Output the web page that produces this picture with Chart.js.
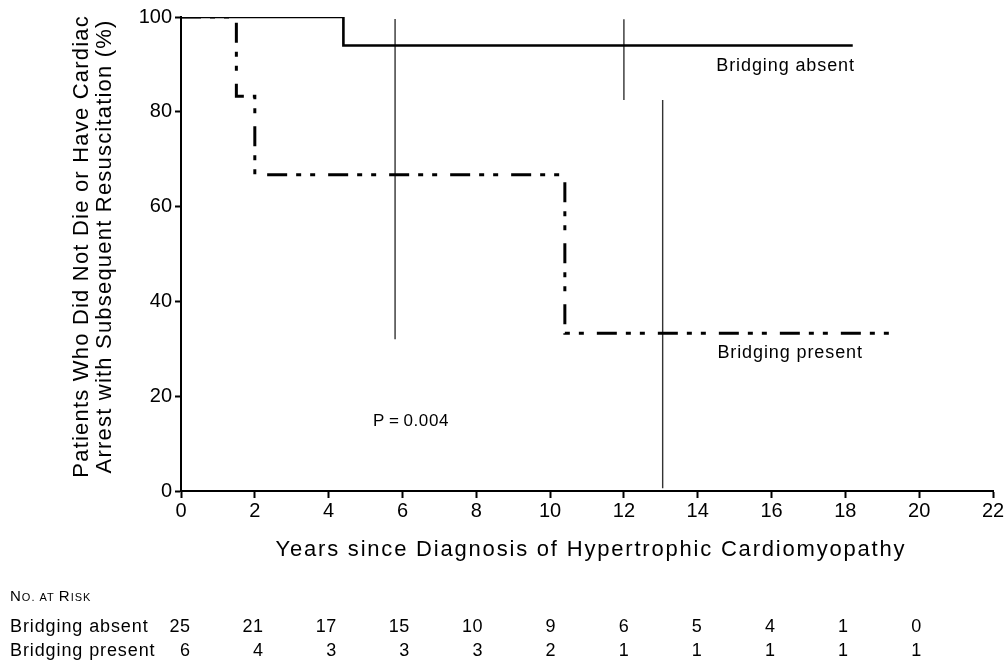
<!DOCTYPE html>
<html>
<head>
<meta charset="utf-8">
<script src="https://cdn.jsdelivr.net/npm/chart.js@4.4.1/dist/chart.umd.min.js"></script>
<style>
  html, body { margin: 0; padding: 0; background: #fff; }
  #wrap { position: relative; width: 1008px; height: 664px; }
</style>
</head>
<body>
<div id="wrap"><canvas id="km"></canvas></div>
<script>
// survival curves (years, % event-free)
const absentYears = [0, 4.4, 18.2];
const absentSurvival = [100, 94, 94];
const presentYears = [0, 1.5, 2.0, 10.4, 19.4];
const presentSurvival = [100, 83.3, 66.7, 33.3, 33.3];

// thin vertical marks crossing the plot
const markYears = [5.8, 12.0, 13.05];
const markTop = [99.6, 99.5, 82.5];
const markBottom = [32, 82.5, 0.6];

const xTicks = [0, 2, 4, 6, 8, 10, 12, 14, 16, 18, 20, 22];
const yTicks = [0, 20, 40, 60, 80, 100];

// number at risk
const riskYears = [0, 2, 4, 6, 8, 10, 12, 14, 16, 18, 20];
const riskAbsent = [25, 21, 17, 15, 10, 9, 6, 5, 4, 1, 0];
const riskPresent = [6, 4, 3, 3, 3, 2, 1, 1, 1, 1, 1];

const FONT = '"Liberation Sans", Arial, Helvetica, sans-serif';

const toPoints = (xs, ys) => xs.map((x, i) => ({ x: x, y: ys[i] }));

const markSets = markYears.map((x, i) => ({
  label: 'mark' + i,
  data: [{ x: x, y: markTop[i] }, { x: x, y: markBottom[i] }],
  borderColor: '#333',
  borderWidth: 1.4,
  pointRadius: 0
}));

// text with tracking, the original typesetting is loose
function txt(ctx, s, x, y, size, spacing) {
  ctx.font = size + 'px ' + FONT;
  ctx.letterSpacing = spacing + 'px';
  if (ctx.textAlign === 'right') x += spacing;
  if (ctx.textAlign === 'center') x += spacing / 2;
  ctx.fillText(s, x, y);
  return ctx.measureText(s).width;
}

const extras = {
  id: 'extras',
  afterDraw(chart) {
    const ctx = chart.ctx;
    const xs = chart.scales.x;
    ctx.save();
    ctx.fillStyle = '#000';

    // axis titles
    ctx.textAlign = 'center';
    ctx.textBaseline = 'middle';
    txt(ctx, 'Years since Diagnosis of Hypertrophic Cardiomyopathy', 590, 550, 22, 1.8);
    ctx.save();
    ctx.translate(0, 247);
    ctx.rotate(-Math.PI / 2);
    txt(ctx, 'Patients Who Did Not Die or Have Cardiac', 0, 82, 22, 1.2);
    txt(ctx, 'Arrest with Subsequent Resuscitation (%)', 0, 105, 22, 1.2);
    ctx.restore();

    // curve labels
    ctx.textAlign = 'right';
    txt(ctx, 'Bridging absent', 854, 66, 18, 0.9);
    txt(ctx, 'Bridging present', 862, 353, 18, 0.9);
    ctx.textAlign = 'left';
    txt(ctx, 'P\u2009=\u20090.004', 373, 421, 17, 0.6);

    // number at risk table
    let x = 10;
    const caps = [['N', 15], ['O. AT ', 11], ['R', 15], ['ISK', 11]];
    ctx.textBaseline = 'alphabetic';
    caps.forEach(([t, s]) => {
      x += txt(ctx, t, x, 601, s, 1.0);
    });
    ctx.textBaseline = 'middle';
    txt(ctx, 'Bridging absent', 10, 627, 18, 0.9);
    txt(ctx, 'Bridging present', 10, 651, 18, 0.9);
    ctx.textAlign = 'right';
    riskYears.forEach((yr, i) => {
      const px = xs.getPixelForValue(yr) + 9 - i * 0.7;
      txt(ctx, String(riskAbsent[i]), px, 627, 18, 0.5);
      txt(ctx, String(riskPresent[i]), px, 651, 18, 0.5);
    });
    ctx.restore();
  }
};

new Chart(document.getElementById('km'), {
  type: 'line',
  data: {
    datasets: [
      {
        label: 'Bridging present',
        data: toPoints(presentYears, presentSurvival),
        stepped: 'before',
        borderColor: '#000',
        borderWidth: 3,
        borderDash: [20, 9, 5, 9, 5, 13],
        pointRadius: 0
      },
      {
        label: 'Bridging absent',
        data: toPoints(absentYears, absentSurvival),
        stepped: 'before',
        borderColor: '#000',
        borderWidth: 2.6,
        pointRadius: 0
      }
    ].concat(markSets)
  },
  options: {
    responsive: true,
    maintainAspectRatio: false,
    animation: false,
    layout: { padding: { left: 0, right: 15, top: 17, bottom: 0 } },
    plugins: {
      legend: { display: false },
      tooltip: { enabled: false },
      title: { display: false }
    },
    scales: {
      x: {
        type: 'linear',
        min: 0,
        max: 22,
        afterBuildTicks: s => { s.ticks = xTicks.map(v => ({ value: v })); },
        afterFit: s => { s.height = 173; },
        ticks: { color: '#000', font: { family: FONT, size: 20 }, padding: 1, maxRotation: 0 },
        grid: { drawOnChartArea: false, drawTicks: true, tickLength: 7, tickWidth: 2, tickColor: '#000' },
        border: { display: true, color: '#000', width: 2 }
      },
      y: {
        min: 0,
        max: 100,
        afterBuildTicks: s => { s.ticks = yTicks.map(v => ({ value: v })); },
        afterFit: s => { s.width = 181; },
        ticks: { color: '#000', font: { family: FONT, size: 20 }, padding: 3 },
        grid: { drawOnChartArea: false, drawTicks: true, tickLength: 6, tickWidth: 2, tickColor: '#000' },
        border: { display: true, color: '#000', width: 2 }
      }
    }
  },
  plugins: [extras]
});
</script>
</body>
</html>
